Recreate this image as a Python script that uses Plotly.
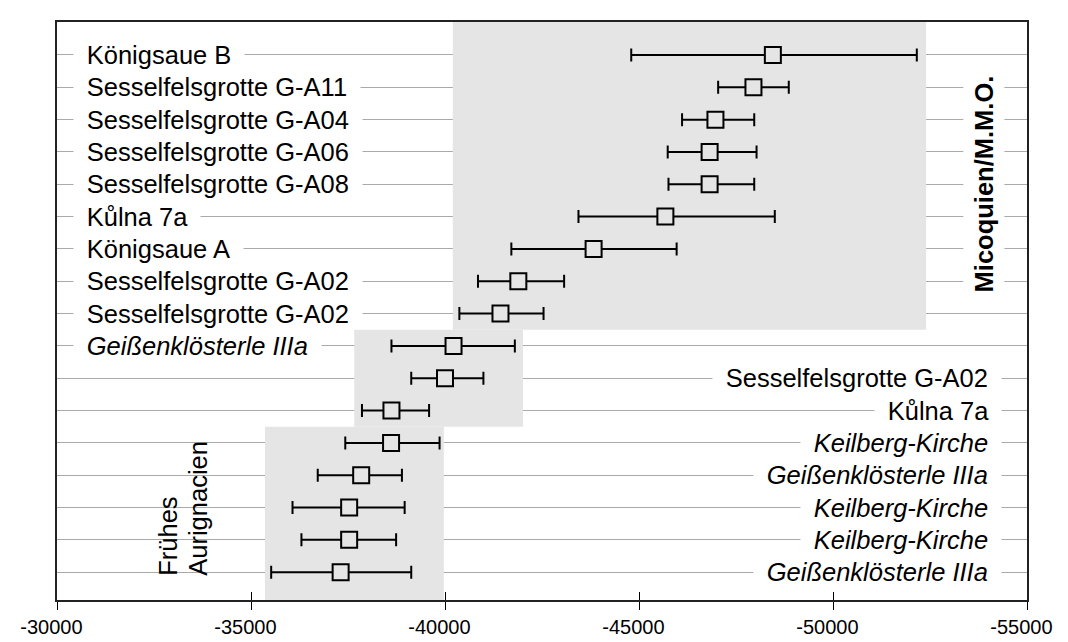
import plotly.graph_objects as go

# ---------------- data ----------------
labels = ["Königsaue B", "Sesselfelsgrotte G-A11", "Sesselfelsgrotte G-A04",
          "Sesselfelsgrotte G-A06", "Sesselfelsgrotte G-A08", "Kůlna 7a",
          "Königsaue A", "Sesselfelsgrotte G-A02", "Sesselfelsgrotte G-A02",
          "Geißenklösterle IIIa", "Sesselfelsgrotte G-A02", "Kůlna 7a",
          "Keilberg-Kirche", "Geißenklösterle IIIa", "Keilberg-Kirche",
          "Keilberg-Kirche", "Geißenklösterle IIIa"]
label_side = ["left"] * 10 + ["right"] * 7
label_italic = [False] * 9 + [True] + [False, False] + [True] * 5

centers = [-48450, -47950, -46970, -46820, -46820, -45680, -43830, -41890, -41430,
           -40220, -40000, -38620, -38610, -37840, -37530, -37530, -37310]
lower = [-44800, -47040, -46110, -45740, -45760, -43440, -41710, -40850, -40370,
         -38620, -39130, -37860, -37430, -36720, -36070, -36300, -35520]
upper = [-52160, -48860, -47970, -48030, -47970, -48500, -45970, -43070, -42540,
         -41800, -40990, -39590, -39860, -38890, -38960, -38740, -39130]

group_names = ["Micoquien/M.M.O.", "", "Frühes\nAurignacien"]
group_rows = [(1, 9), (10, 12), (13, 17)]
group_x = [(-40200, -52400), (-37660, -42010), (-35360, -39970)]

tick_vals = [-30000, -35000, -40000, -45000, -50000, -55000]
tick_labels = ["-30000", "-35000", "-40000", "-45000", "-50000", "-55000"]

# ---------------- figure ----------------
n = len(labels)
ypos = [n + 1 - (i + 1) for i in range(n)]  # row 1 at top
y_min, y_max = 0.14, n + 1.02
FONT = "Liberation Sans, Arial, Helvetica, sans-serif"
GRAY = "#e5e5e5"
NB = "\u00a0"

fig = go.Figure()

fig.add_trace(go.Scatter(
    x=centers, y=ypos, mode="markers",
    marker=dict(symbol="square", size=16, color=GRAY,
                line=dict(color="black", width=2)),
    error_x=dict(type="data", symmetric=False,
                 array=[l - c for l, c in zip(lower, centers)],
                 arrayminus=[c - u for c, u in zip(centers, upper)],
                 color="black", thickness=2, width=6.5),
    hoverinfo="skip", showlegend=False,
))
# invisible helper trace for the overlaid tick axis
fig.add_trace(go.Scatter(x=[centers[0]], y=[ypos[0]], xaxis="x2", mode="markers",
                         marker=dict(opacity=0), hoverinfo="skip", showlegend=False))

shapes = []
for (r0, r1), (xa, xb) in zip(group_rows, group_x):
    yb = (n + 1 - r1) - 0.5 if r1 < n else y_min
    yt = (n + 1 - r0) + 0.5 if r0 > 1 else y_max
    shapes.append(dict(type="rect", xref="x", yref="y", x0=xa, x1=xb, y0=yb, y1=yt,
                       fillcolor=GRAY, line=dict(width=0), layer="between"))

# white backdrop behind the "Frühes Aurignacien" title
r0, r1 = group_rows[2]
shapes.append(dict(type="rect", xref="paper", yref="y", x0=0.0995, x1=0.1729,
                   y0=(n + 1 - r1) - 0.5, y1=(n + 1 - r0) + 0.45,
                   fillcolor="white", line=dict(width=0), layer="between"))

annotations = []
ES = "\u2002"
for lab, side, it, y in zip(labels, label_side, label_italic, ypos):
    txt = ES + (f"<i>{lab}</i>" if it else lab) + ES
    annotations.append(dict(
        text=txt, xref="paper", yref="y", y=y,
        x=0.0166 if side == "left" else 0.9746,
        xanchor=side, yanchor="middle", showarrow=False,
        bgcolor="white", borderpad=0,
        font=dict(family=FONT, size=25.5, color="black"),
    ))

# group title: Micoquien
annotations.append(dict(
    text="<b>" + group_names[0] + "</b>", xref="paper", yref="y", x=0.9558, y=13.0,
    xanchor="center", yanchor="middle", textangle=-90, showarrow=False,
    bgcolor="white", borderpad=6, font=dict(family=FONT, size=25.5, color="black"),
))
# group title: Frühes Aurignacien (two tight lines)
for line, xp in zip(group_names[2].split("\n"), [0.1150, 0.1459]):
    annotations.append(dict(
        text=line, xref="paper", yref="y", x=xp, y=0.86,
        xanchor="center", yanchor="bottom", textangle=-90, showarrow=False,
        borderpad=0, font=dict(family=FONT, size=25.5, color="black"),
    ))

fig.update_layout(
    width=1068, height=642,
    margin=dict(l=44, r=29, t=13, b=34),
    paper_bgcolor="white", plot_bgcolor="white",
    showlegend=False,
    font=dict(family=FONT, color="black"),
    shapes=shapes, annotations=annotations,
    xaxis=dict(range=[-30000, -55000], tickvals=tick_vals,
               ticktext=[t + NB + NB for t in tick_labels],
               ticks="outside", ticklen=8, tickwidth=1.2, tickcolor="black",
               ticklabeloverflow="allow",
               showline=True, linecolor="#222222", linewidth=1.5, mirror=True,
               showgrid=False, zeroline=False,
               tickfont=dict(family=FONT, size=20, color="black")),
    xaxis2=dict(range=[-30000, -55000], overlaying="x", anchor="y", side="bottom",
                tickvals=tick_vals, ticks="inside", ticklen=8, tickwidth=1.2,
                tickcolor="black", showticklabels=False, showline=False,
                showgrid=False, zeroline=False),
    yaxis=dict(range=[y_min, y_max], tickvals=ypos, showticklabels=False, ticks="",
               showgrid=True, gridcolor="#aaaaaa", gridwidth=1,
               showline=True, linecolor="#222222", linewidth=1.5, mirror=True,
               zeroline=False),
)

fig.write_html("out.html")
